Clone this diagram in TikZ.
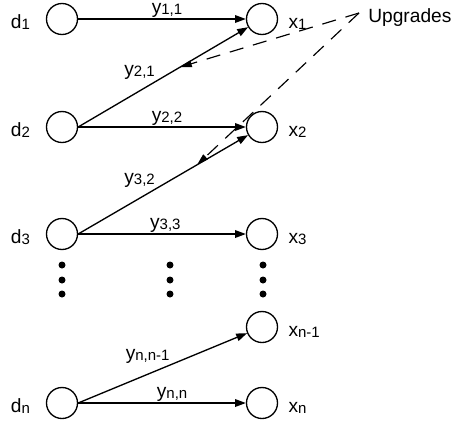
\documentclass[tikz,border=0pt]{standalone}
\usepackage{fontspec}
\setmainfont{Liberation Sans}
\usetikzlibrary{arrows.meta}
\newcommand{\lo}[1]{\raisebox{-0.6pt}{\fontsize{9}{11}\selectfont #1}}
\tikzset{
txt/.style={font=\fontsize{11.5}{14}\selectfont},
unit/.style={ % circles of both columns
circle, draw, line width=0.8pt,
minimum size=18.6pt, inner sep=0pt},
dlab/.style={txt, anchor=base east, inner sep=0pt, xshift=-9.3pt, yshift=-5.6pt},
xlab/.style={txt, anchor=base west, inner sep=0pt, xshift=6pt, yshift=-5.6pt},
elab/.style={txt, inner sep=0.5pt}, % labels on the links
link/.style={ % solid links d -> x
draw, line width=0.8pt,
-{Triangle[length=6.5pt, width=4.6pt]}},
upgrade/.style={ % dashed pointers
draw, line width=0.7pt, dash pattern=on 8.5pt off 6pt,
-{Triangle[length=7pt, width=4pt]}}}
\begin{document}
\begin{tikzpicture}[x=0.6pt, y=-0.6pt]
	\useasboundingbox (0,0) rectangle (461,426);
	\node[unit, label={[dlab]left:d\lo{1}}] (d1) at (62,19) {};
	\node[unit, label={[dlab]left:d\lo{2}}] (d2) at (62,127) {};
	\node[unit, label={[dlab]left:d\lo{3}}] (d3) at (62,234) {};
	\node[unit, label={[dlab]left:d\lo{n}}] (dn) at (62,403) {};
	\node[unit, label={[xlab]right:x\lo{1}}] (x1) at (262,19) {};
	\node[unit, label={[xlab]right:x\lo{2}}] (x2) at (262,127) {};
	\node[unit, label={[xlab]right:x\lo{3}}] (x3) at (262,234) {};
	\node[unit, label={[xlab]right:x\lo{n-1}}] (xm) at (262,327) {};
	\node[unit, label={[xlab]right:x\lo{n}}] (xn) at (262,403) {};
	\node[txt, anchor=base west, inner sep=0pt] (upg) at (368,22) {Upgrades};
	\coordinate (split) at (359,13);
	% links
	\draw[link] (d1) -- (x1) node[elab, above, pos=0.53] {y\lo{1,1}};
	\draw[link] (d2.east) -- (x1) node[elab, above left, pos=0.46] {y\lo{2,1}} coordinate[pos=0.6] (u1);
	\draw[link] (d2) -- (x2) node[elab, above, pos=0.53] {y\lo{2,2}};
	\draw[link] (d3.east) -- (x2) node[elab, above left, pos=0.46] {y\lo{3,2}} coordinate[pos=0.7] (u2);
	\draw[link] (d3) -- (x3) node[elab, above, pos=0.52] {y\lo{3,3}};
	\draw[link] (dn.east) -- (xm) node[elab, above left, pos=0.55] {y\lo{n,n-1}};
	\draw[link] (dn) -- (xn) node[elab, above, pos=0.56] {y\lo{n,n}};
	% upgrades
	\draw[upgrade] (split) -- (u1);
	\draw[upgrade] (split) -- (u2);
	% dots
	\foreach \cx in {62,170,263}
		\foreach \cy in {265,280,294}
			\fill (\cx,\cy) circle (2.1pt);
\end{tikzpicture}
\end{document}
